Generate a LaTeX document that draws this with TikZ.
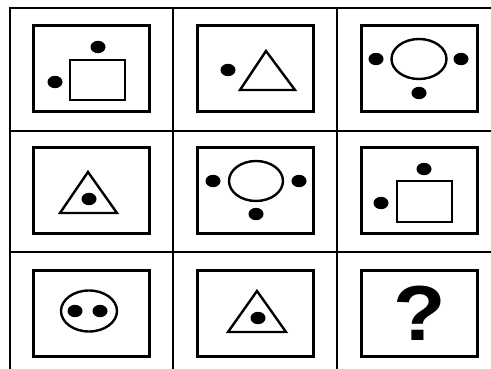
\documentclass[tikz,border=0pt]{standalone}
\usepackage{fontspec}
\setmainfont{Liberation Sans}
\begin{document}
\begin{tikzpicture}[x=1pt,y=-1pt,
  gridline/.style={line width=2pt,black},
  panel/.style={line width=3pt,black},
  figline/.style={line width=2.4pt,black},
  dot/.style={fill=black}]
\useasboundingbox (0,0) rectangle (491,369);
% outer grid
\draw[gridline] (491,8) -- (10,8) -- (10,369);
\draw[gridline] (173,8) -- (173,369);
\draw[gridline] (337,8) -- (337,369);
\draw[gridline] (10,131) -- (491,131);
\draw[gridline] (10,252) -- (491,252);
% panels
\foreach \x in {33,197,361}{
  \draw[panel] (\x,26) rectangle ++(116,86);
  \draw[panel] (\x,148) rectangle ++(116,86);
  \draw[panel] (\x,270) rectangle ++(116,86);
}
% row 1
\draw[figline] (70,60) rectangle (125,100);
\fill[dot] (98,47) ellipse (7.5 and 6.2);
\fill[dot] (55,82) ellipse (7.5 and 6.2);
\draw[figline] (266,51) -- (240,90) -- (295,90) -- cycle;
\fill[dot] (228,70) ellipse (7.5 and 6.2);
\draw[figline] (419,59) ellipse (27.5 and 20);
\fill[dot] (376,59) ellipse (7.5 and 6.2);
\fill[dot] (461,59) ellipse (7.5 and 6.2);
\fill[dot] (419,93) ellipse (7.5 and 6.2);
% row 2
\draw[figline] (88,172) -- (60,213) -- (117,213) -- cycle;
\fill[dot] (89,199) ellipse (7.5 and 6.2);
\draw[figline] (256,181) ellipse (27 and 20);
\fill[dot] (213,181) ellipse (7.5 and 6.2);
\fill[dot] (299,181) ellipse (7.5 and 6.2);
\fill[dot] (256,214) ellipse (7.5 and 6.2);
\draw[figline] (397,181) rectangle (452,222);
\fill[dot] (424,169) ellipse (7.5 and 6.2);
\fill[dot] (381,203) ellipse (7.5 and 6.2);
% row 3
\draw[figline] (89,311) ellipse (28 and 20.5);
\fill[dot] (75,311) ellipse (7.5 and 6.2);
\fill[dot] (100,311) ellipse (7.5 and 6.2);
\draw[figline] (257,291) -- (228,332) -- (286,332) -- cycle;
\fill[dot] (258,318) ellipse (7.5 and 6.2);
\node[xscale=1.1] (q) at (420,313) {\fontsize{78}{80}\selectfont\bfseries ?};
\end{tikzpicture}
\end{document}
